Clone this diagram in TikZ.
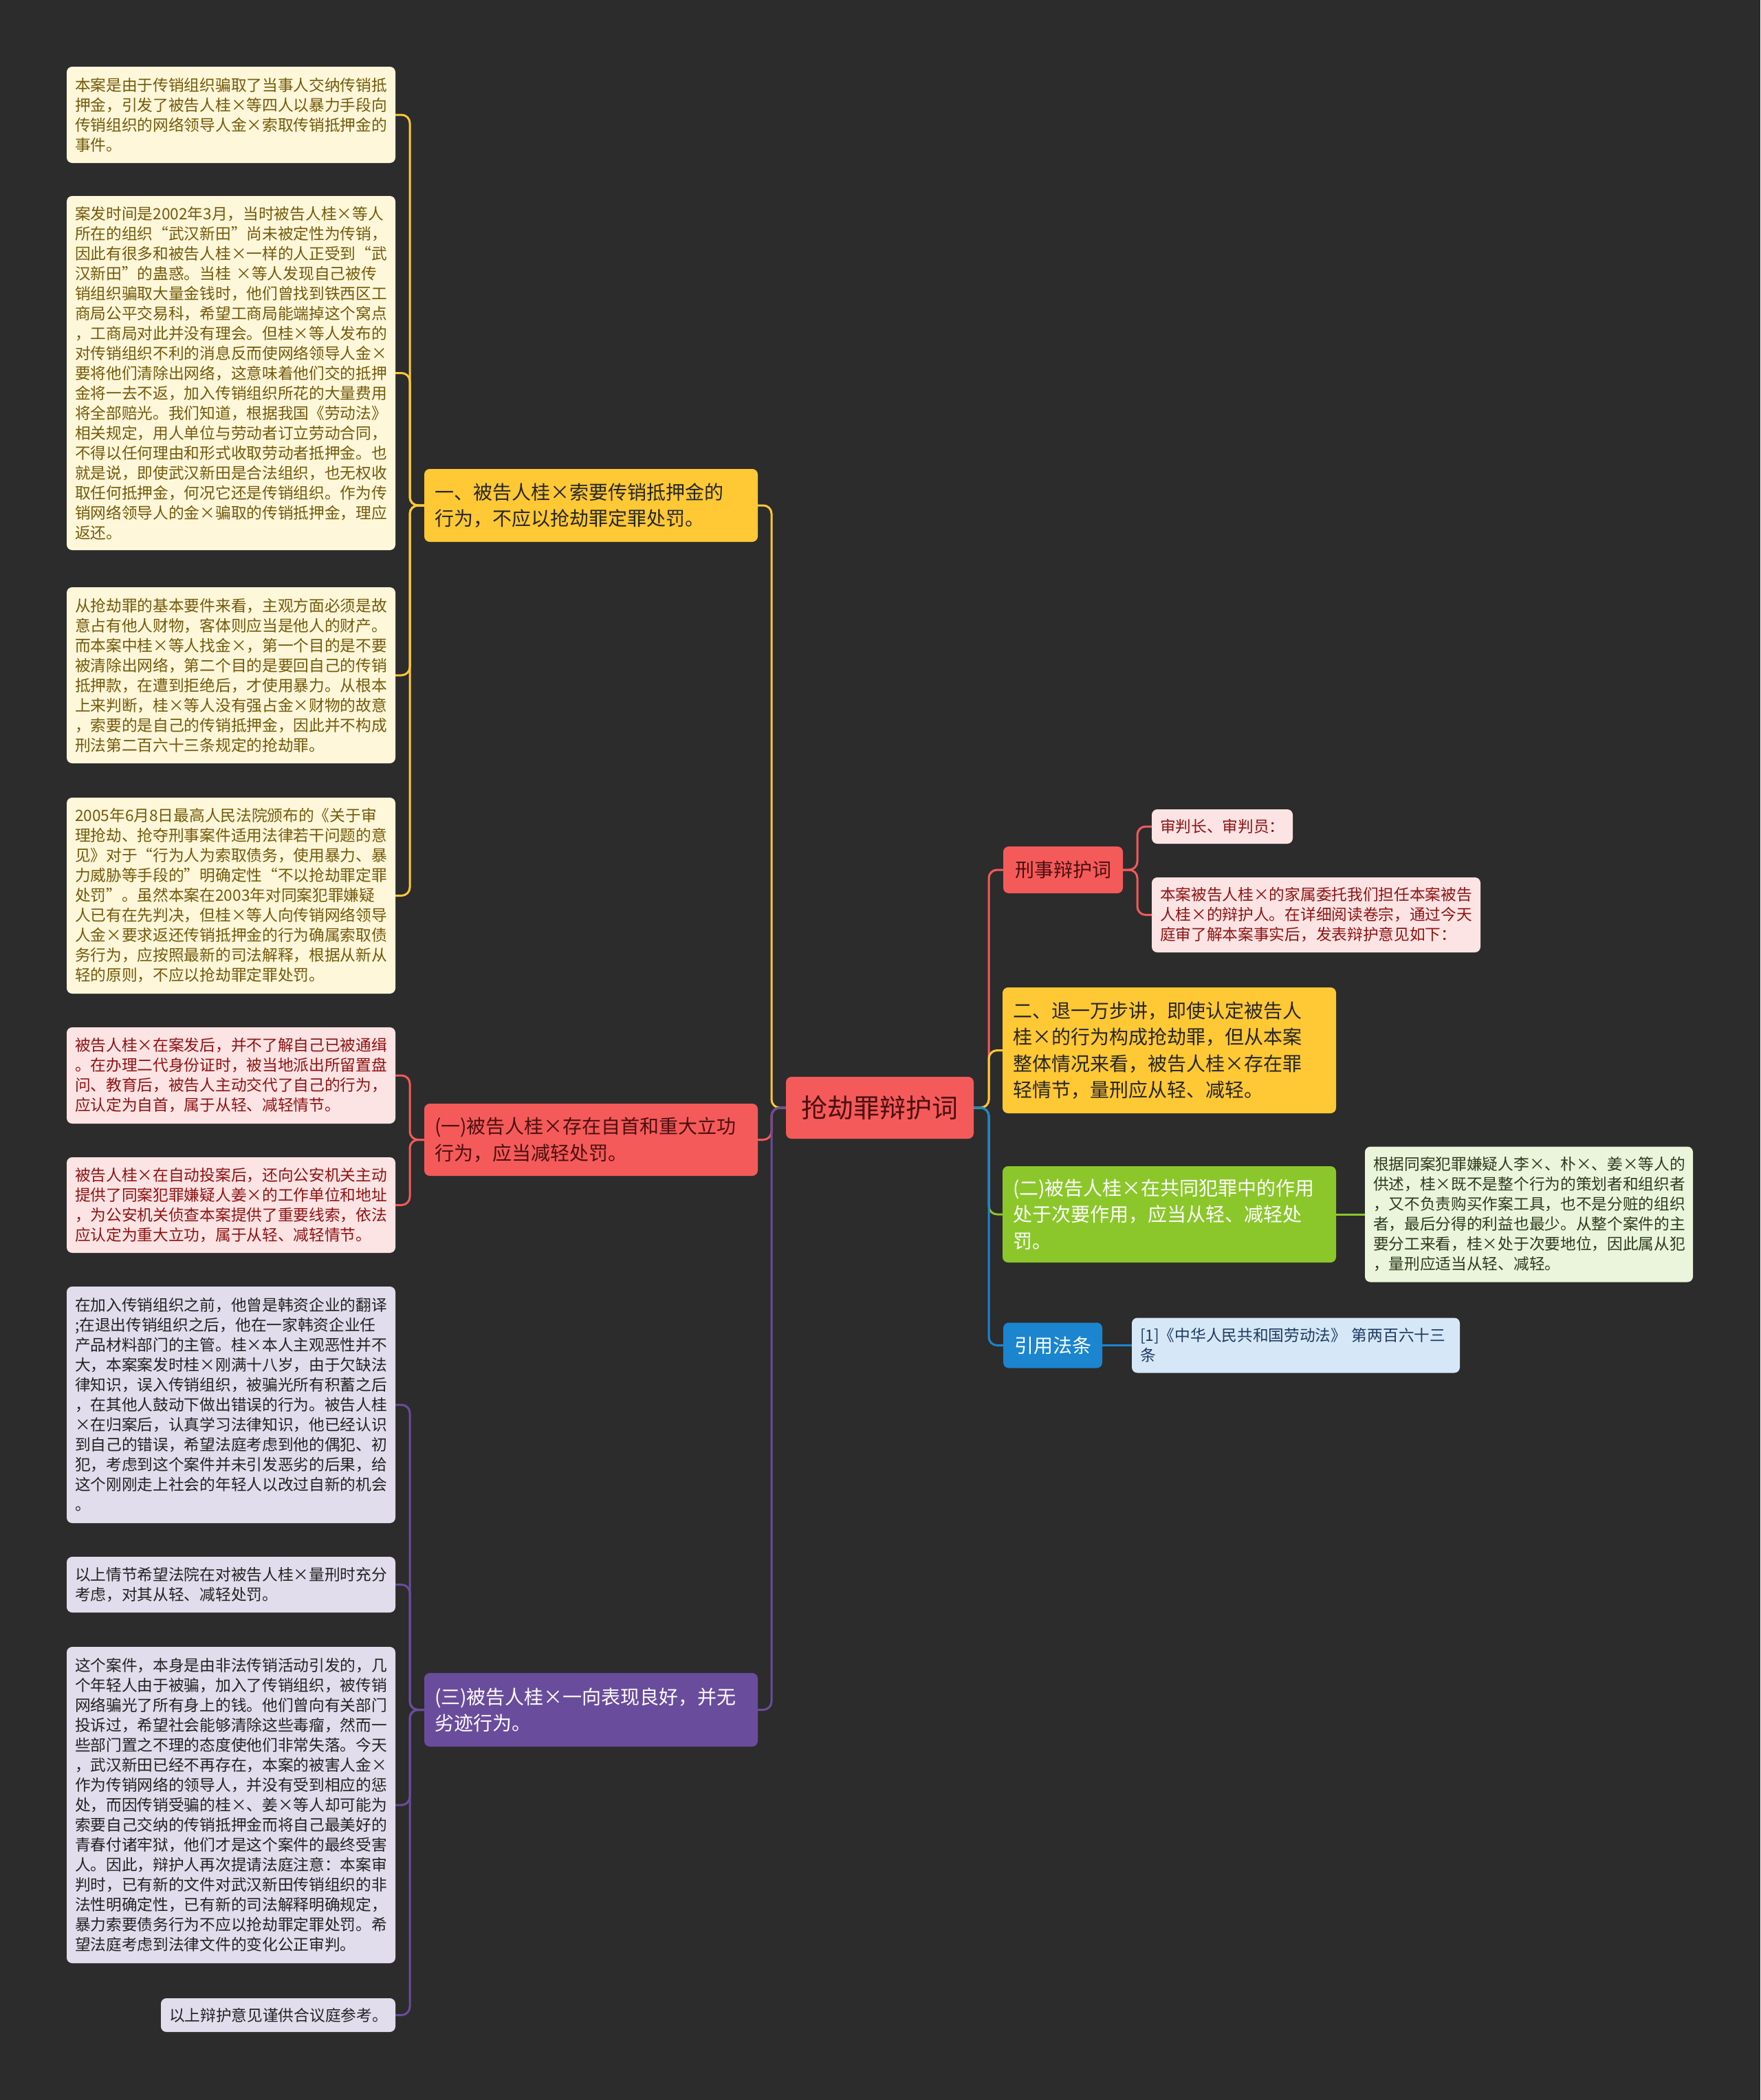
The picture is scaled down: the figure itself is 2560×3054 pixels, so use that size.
\documentclass[tikz,border=0pt]{standalone}
\usepackage{fontspec}
\setmainfont{Noto Sans CJK SC}
\definecolor{bgc}{HTML}{2C2C2C}
\definecolor{cY}{HTML}{FFC835}
\definecolor{cYleaf}{HTML}{FFF7DA}
\definecolor{cYtext}{HTML}{735A0A}
\definecolor{cR}{HTML}{F55A5A}
\definecolor{cRleaf}{HTML}{FDE4E4}
\definecolor{cRtext}{HTML}{8E1313}
\definecolor{cRdark}{HTML}{4A0F0F}
\definecolor{cP}{HTML}{6A4C9C}
\definecolor{cPleaf}{HTML}{E2DDEC}
\definecolor{cPtext}{HTML}{222222}
\definecolor{cG}{HTML}{8BC72B}
\definecolor{cGleaf}{HTML}{EAF5DC}
\definecolor{cGtext}{HTML}{2E3B1A}
\definecolor{cB}{HTML}{1B85CF}
\definecolor{cBleaf}{HTML}{D6E8F7}
\definecolor{cBtext}{HTML}{1E3A5F}
\newcommand\fleaf{\fontsize{22.7pt}{29pt}\selectfont}
\newcommand\fbranch{\fontsize{28pt}{38.5pt}\selectfont}
\newcommand\fcenter{\fontsize{38pt}{46pt}\selectfont}
\tikzset{
  box/.style={rounded corners=8pt, inner ysep=0pt, align=left, anchor=center},
  leaf/.style={box, inner xsep=12pt, font=\fleaf, text width=454pt},
  leafY/.style={leaf, fill=cYleaf, text=cYtext},
  leafR/.style={leaf, fill=cRleaf, text=cRtext},
  leafP/.style={leaf, fill=cPleaf, text=cPtext},
  leafG/.style={leaf, fill=cGleaf, text=cGtext},
  leafB/.style={leaf, fill=cBleaf, text=cBtext},
  branch/.style={box, inner xsep=15pt, font=\fbranch, text width=455pt},
  conn/.style={line width=3pt, rounded corners=12pt}
}
\begin{document}
\begin{tikzpicture}[x=1pt,y=-1pt]
\fill[bgc] (0,0) rectangle (2560,3054);
\useasboundingbox (0,0) rectangle (2560,3054);

% trunk coordinates
\coordinate (tL) at (596,0);
\coordinate (tC) at (1122,0);
\coordinate (tR) at (1438,0);
\coordinate (tK) at (1654,0);

% center
\node[box, fill=cR, text=cRdark, font=\fcenter, align=center, minimum width=273pt, minimum height=90pt] (c) at (1279.5,1611) {抢劫罪辩护词};

% left branches
\node[branch, fill=cY, text=black!85, minimum height=106pt] (bY) at (859.5,735) {一、被告人桂×索要传销抵押金的\\行为，不应以抢劫罪定罪处罚。};
\node[branch, fill=cR, text=cRdark, minimum height=105pt] (bR) at (859.5,1657.5) {(一)被告人桂×存在自首和重大立功\\行为，应当减轻处罚。};
\node[branch, fill=cP, text=white, minimum height=107pt] (bP) at (859.5,2486.5) {(三)被告人桂×一向表现良好，并无\\劣迹行为。};

% left leaves (yellow)
\node[leafY, minimum height=140pt] (l1) at (336,167) {本案是由于传销组织骗取了当事人交纳传销抵\\押金，引发了被告人桂×等四人以暴力手段向\\传销组织的网络领导人金×索取传销抵押金的\\事件。};
\node[leafY, minimum height=515pt] (l2) at (336,542.5) {案发时间是2002年3月，当时被告人桂×等人\\所在的组织“武汉新田”尚未被定性为传销，\\因此有很多和被告人桂×一样的人正受到“武\\汉新田”的蛊惑。当桂 ×等人发现自己被传\\销组织骗取大量金钱时，他们曾找到铁西区工\\商局公平交易科，希望工商局能端掉这个窝点\\，工商局对此并没有理会。但桂×等人发布的\\对传销组织不利的消息反而使网络领导人金×\\要将他们清除出网络，这意味着他们交的抵押\\金将一去不返，加入传销组织所花的大量费用\\将全部赔光。我们知道，根据我国《劳动法》\\相关规定，用人单位与劳动者订立劳动合同，\\不得以任何理由和形式收取劳动者抵押金。也\\就是说，即使武汉新田是合法组织，也无权收\\取任何抵押金，何况它还是传销组织。作为传\\销网络领导人的金×骗取的传销抵押金，理应\\返还。};
\node[leafY, minimum height=256pt] (l3) at (336,982) {从抢劫罪的基本要件来看，主观方面必须是故\\意占有他人财物，客体则应当是他人的财产。\\而本案中桂×等人找金×，第一个目的是不要\\被清除出网络，第二个目的是要回自己的传销\\抵押款，在遭到拒绝后，才使用暴力。从根本\\上来判断，桂×等人没有强占金×财物的故意\\，索要的是自己的传销抵押金，因此并不构成\\刑法第二百六十三条规定的抢劫罪。};
\node[leafY, minimum height=285pt] (l4) at (336,1302.5) {2005年6月8日最高人民法院颁布的《关于审\\理抢劫、抢夺刑事案件适用法律若干问题的意\\见》对于“行为人为索取债务，使用暴力、暴\\力威胁等手段的”明确定性“不以抢劫罪定罪\\处罚”。虽然本案在2003年对同案犯罪嫌疑\\人已有在先判决，但桂×等人向传销网络领导\\人金×要求返还传销抵押金的行为确属索取债\\务行为，应按照最新的司法解释，根据从新从\\轻的原则，不应以抢劫罪定罪处罚。};

% left leaves (red)
\node[leafR, minimum height=140pt] (l5) at (336,1564) {被告人桂×在案发后，并不了解自己已被通缉\\。在办理二代身份证时，被当地派出所留置盘\\问、教育后，被告人主动交代了自己的行为，\\应认定为自首，属于从轻、减轻情节。};
\node[leafR, minimum height=139pt] (l6) at (336,1752.5) {被告人桂×在自动投案后，还向公安机关主动\\提供了同案犯罪嫌疑人姜×的工作单位和地址\\，为公安机关侦查本案提供了重要线索，依法\\应认定为重大立功，属于从轻、减轻情节。};

% left leaves (purple)
\node[leafP, minimum height=344pt] (l7) at (336,2043) {在加入传销组织之前，他曾是韩资企业的翻译\\;在退出传销组织之后，他在一家韩资企业任\\产品材料部门的主管。桂×本人主观恶性并不\\大，本案案发时桂×刚满十八岁，由于欠缺法\\律知识，误入传销组织，被骗光所有积蓄之后\\，在其他人鼓动下做出错误的行为。被告人桂\\×在归案后，认真学习法律知识，他已经认识\\到自己的错误，希望法庭考虑到他的偶犯、初\\犯，考虑到这个案件并未引发恶劣的后果，给\\这个刚刚走上社会的年轻人以改过自新的机会\\。};
\node[leafP, minimum height=81pt] (l8) at (336,2304.5) {以上情节希望法院在对被告人桂×量刑时充分\\考虑，对其从轻、减轻处罚。};
\node[leafP, minimum height=460pt] (l9) at (336,2625) {这个案件，本身是由非法传销活动引发的，几\\个年轻人由于被骗，加入了传销组织，被传销\\网络骗光了所有身上的钱。他们曾向有关部门\\投诉过，希望社会能够清除这些毒瘤，然而一\\些部门置之不理的态度使他们非常失落。今天\\，武汉新田已经不再存在，本案的被害人金×\\作为传销网络的领导人，并没有受到相应的惩\\处，而因传销受骗的桂×、姜×等人却可能为\\索要自己交纳的传销抵押金而将自己最美好的\\青春付诸牢狱，他们才是这个案件的最终受害\\人。因此，辩护人再次提请法庭注意：本案审\\判时，已有新的文件对武汉新田传销组织的非\\法性明确定性，已有新的司法解释明确规定，\\暴力索要债务行为不应以抢劫罪定罪处罚。希\\望法庭考虑到法律文件的变化公正审判。};
\node[leafP, text width=317pt, minimum height=49pt] (l10) at (404.5,2930.5) {以上辩护意见谨供合议庭参考。};

% right branches
\node[box, inner xsep=14pt, font=\fbranch, fill=cR, text=cRdark, minimum width=174pt, minimum height=68pt] (r1) at (1546,1265) {刑事辩护词};
\node[leafR, text width=181pt, minimum height=50pt] (r1a) at (1777.5,1202) {审判长、审判员：};
\node[leafR, minimum height=109pt] (r1b) at (1914,1330.5) {本案被告人桂×的家属委托我们担任本案被告\\人桂×的辩护人。在详细阅读卷宗，通过今天\\庭审了解本案事实后，发表辩护意见如下：};
\node[branch, fill=cY, text=black!85, text width=455pt, minimum height=183pt] (r2) at (1700.5,1527.5) {二、退一万步讲，即使认定被告人\\桂×的行为构成抢劫罪，但从本案\\整体情况来看，被告人桂×存在罪\\轻情节，量刑应从轻、减轻。};
\node[branch, fill=cG, text=white, text width=455pt, minimum height=140pt] (r3) at (1700.5,1766) {(二)被告人桂×在共同犯罪中的作用\\处于次要作用，应当从轻、减轻处\\罚。};
\node[leafG, text width=453pt, minimum height=197pt] (r3a) at (2223.5,1766) {根据同案犯罪嫌疑人李×、朴×、姜×等人的\\供述，桂×既不是整个行为的策划者和组织者\\，又不负责购买作案工具，也不是分赃的组织\\者，最后分得的利益也最少。从整个案件的主\\要分工来看，桂×处于次要地位，因此属从犯\\，量刑应适当从轻、减轻。};
\node[box, inner xsep=14pt, font=\fbranch, fill=cB, text=white, minimum width=144pt, minimum height=66pt] (r4) at (1531,1956.5) {引用法条};
\node[leafB, text width=453pt, minimum height=80pt] (r4a) at (1884.5,1956.5) {[1]《中华人民共和国劳动法》 第两百六十三\\条};

% connectors: center to left branches
\draw[conn, draw=cY] (c.west) -- (c.west -| tC) |- (bY.east);
\draw[conn, draw=cR] (c.west) -- (c.west -| tC) |- (bR.east);
\draw[conn, draw=cP] (c.west) -- (c.west -| tC) |- (bP.east);

% left leaves
\draw[conn, draw=cY] (bY.west) -- (bY.west -| tL) |- (l1.east);
\draw[conn, draw=cY] (bY.west) -- (bY.west -| tL) |- (l2.east);
\draw[conn, draw=cY] (bY.west) -- (bY.west -| tL) |- (l3.east);
\draw[conn, draw=cY] (bY.west) -- (bY.west -| tL) |- (l4.east);
\draw[conn, draw=cR] (bR.west) -- (bR.west -| tL) |- (l5.east);
\draw[conn, draw=cR] (bR.west) -- (bR.west -| tL) |- (l6.east);
\draw[conn, draw=cP] (bP.west) -- (bP.west -| tL) |- (l7.east);
\draw[conn, draw=cP] (bP.west) -- (bP.west -| tL) |- (l8.east);
\draw[conn, draw=cP] (bP.west) -- (bP.west -| tL) |- (l9.east);
\draw[conn, draw=cP] (bP.west) -- (bP.west -| tL) |- (l10.east);

% center to right branches
\draw[conn, draw=cR] (c.east) -- (c.east -| tR) |- (r1.west);
\draw[conn, draw=cY] (c.east) -- (c.east -| tR) |- (r2.west);
\draw[conn, draw=cG] (c.east) -- (c.east -| tR) |- (r3.west);
\draw[conn, draw=cB] (c.east) -- (c.east -| tR) |- (r4.west);

% right leaves
\draw[conn, draw=cR] (r1.east) -- (r1.east -| tK) |- (r1a.west);
\draw[conn, draw=cR] (r1.east) -- (r1.east -| tK) |- (r1b.west);
\draw[conn, draw=cG] (r3.east) -- (r3a.west);
\draw[conn, draw=cB] (r4.east) -- (r4a.west);
\end{tikzpicture}
\end{document}
